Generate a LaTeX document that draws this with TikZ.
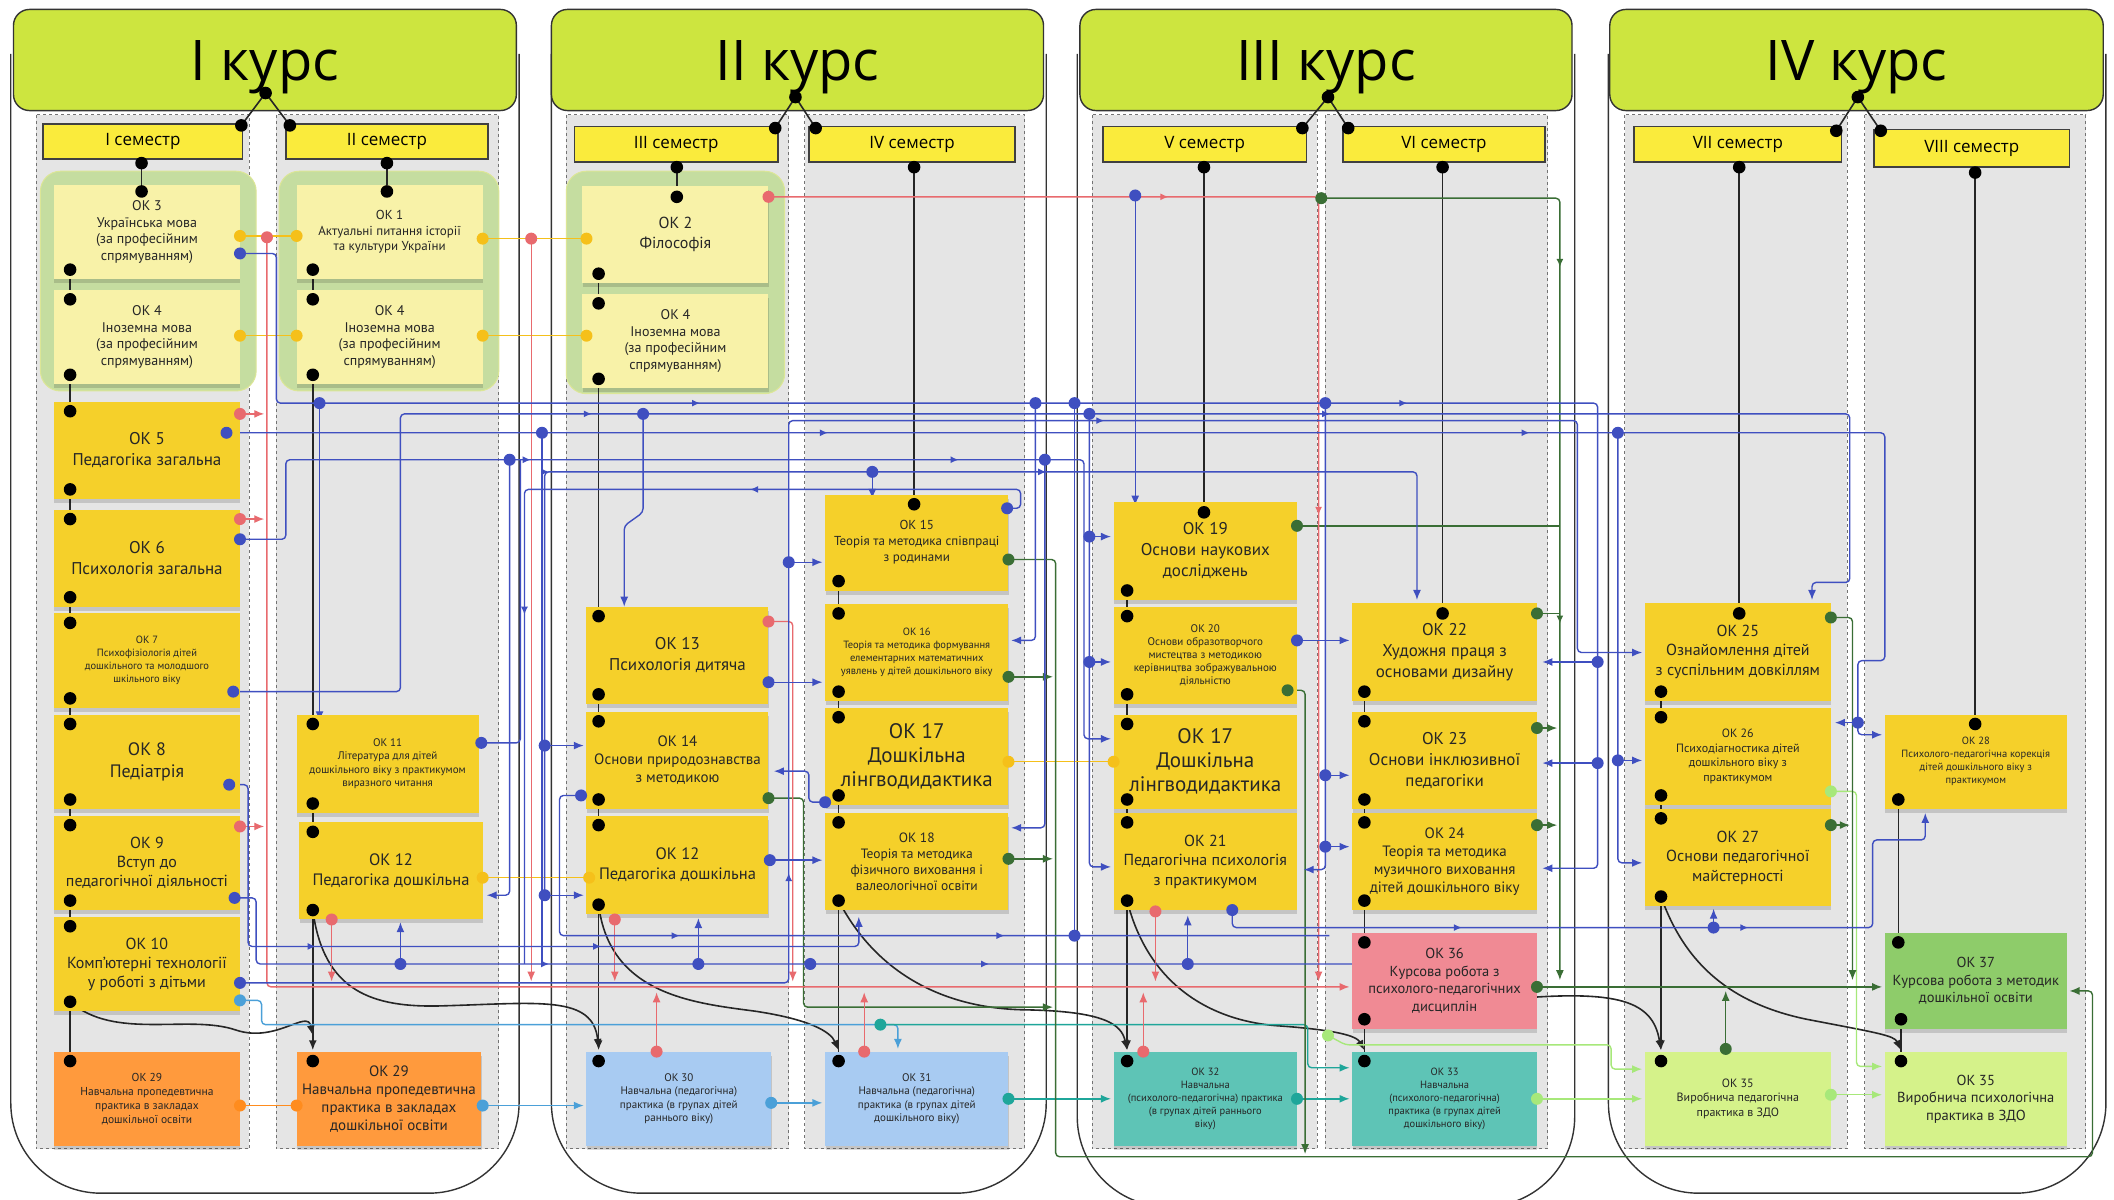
\documentclass[tikz,border=0pt]{standalone}
\usepackage{fontspec}
\setmainfont{Open Sans}
\newfontfamily\notefont{PT Sans}
\usetikzlibrary{arrows.meta,shadows,fit,decorations.markings}
\definecolor{hdr}{RGB}{205,229,63}
\definecolor{sem}{RGB}{250,235,60}
\definecolor{nyel}{RGB}{245,208,42}
\definecolor{nlight}{RGB}{248,242,168}
\definecolor{grp}{RGB}{197,221,160}
\definecolor{grpb}{RGB}{220,230,150}
\definecolor{colgray}{RGB}{229,229,229}
\definecolor{norange}{RGB}{255,154,61}
\definecolor{nblue}{RGB}{168,203,242}
\definecolor{nteal}{RGB}{94,196,182}
\definecolor{npink}{RGB}{240,138,148}
\definecolor{nlgreen}{RGB}{213,242,138}
\definecolor{ngreen}{RGB}{142,204,106}
\definecolor{cblue}{RGB}{63,79,192}
\definecolor{cred}{RGB}{232,106,110}
\definecolor{cyel}{RGB}{245,192,26}
\definecolor{cdgreen}{RGB}{58,110,53}
\definecolor{clgreen}{RGB}{167,232,122}
\definecolor{cteal}{RGB}{31,166,154}
\definecolor{clblue}{RGB}{75,160,216}
\definecolor{corange}{RGB}{255,140,30}
\newcommand\mknote[9]{%
  \node[notebox, fill=#6, fit={(#2,#3) (#4,#5)}] (#1) {};
  \node[notetext, font={\notefont\fontsize{#7}{#8}\selectfont}] (#1t) at (#1.center) {#9};
}
\begin{document}
\begin{tikzpicture}[x=1.348pt,y=-1.348pt,
  blk/.style={draw=black!85, line width=1.6pt},
  cb/.style={draw=cblue, line width=1.4pt, rounded corners=4pt},
  cr/.style={draw=cred, line width=1.4pt, rounded corners=4pt},
  cy/.style={draw=cyel, line width=1.4pt},
  co/.style={draw=corange, line width=1.4pt},
  cg/.style={draw=cdgreen, line width=1.4pt, rounded corners=4pt},
  clg/.style={draw=clgreen, line width=1.4pt, rounded corners=4pt},
  ct/.style={draw=cteal, line width=1.4pt, rounded corners=4pt},
  clb/.style={draw=clblue, line width=1.4pt, rounded corners=4pt},
  arr/.style={-{Latex[length=10pt,width=8pt]}},
  ma/.style={postaction={decorate}, decoration={markings,
     mark=at position 0.3 with {\arrow{Latex[length=8pt,width=7pt]}},
     mark=at position 0.65 with {\arrow{Latex[length=8pt,width=7pt]}}}},
  notebox/.style={inner sep=0pt, draw=none, drop shadow={shadow xshift=0.5pt, shadow yshift=-4pt, opacity=0.14, fill=black}},
  notetext/.style={align=center, text=black!85, inner sep=0pt},
  hdrbox/.style={inner sep=0pt, draw=black!80, line width=1.4pt, fill=hdr, rounded corners=16pt},
  sembox/.style={inner sep=0pt, draw=black!75, line width=1.5pt, fill=sem},
  colbox/.style={fill=colgray, draw=black!55, dashed, line width=0.8pt},
  course/.style={draw=black!80, line width=1.4pt, rounded corners=90pt},
  grpbox/.style={fill=grp, draw=grpb, line width=1pt, rounded corners=20pt},
  hdrtext/.style={font=\fontsize{56}{60}\selectfont, yshift=-7pt},
  semtext/.style={font=\fontsize{17}{20}\selectfont}
]
\fill[white] (0,0) rectangle (1568,890);
\useasboundingbox (0,0) rectangle (1568,890);

% course outlines
\draw[course] (8,40) -- (8,885) -- (385,885) -- (385,40);
\draw[course] (409,40) -- (409,885) -- (776,885) -- (776,40);
\draw[course] (799,40) -- (799,895) -- (1168,895) -- (1168,40);
\draw[course] (1193,40) -- (1193,885) -- (1562,885) -- (1562,40);

% semester columns
\foreach \a/\b in {27/185,205/370,420/585,597/760,810/977,983/1148,1205/1370,1383/1547}
  \filldraw[colbox] (\a,85) rectangle (\b,852);

% headers
\node[hdrbox, fit={(10,7) (383,82)}] (h1) {};
\node[hdrtext] (h1t) at (h1.center) {I курс};
\node[hdrbox, fit={(409,7) (774,82)}] (h2) {};
\node[hdrtext] (h2t) at (h2.center) {II курс};
\node[hdrbox, fit={(801,7) (1166,82)}] (h3) {};
\node[hdrtext] (h3t) at (h3.center) {III курс};
\node[hdrbox, fit={(1194,7) (1560,82)}] (h4) {};
\node[hdrtext] (h4t) at (h4.center) {IV курс};

% semester boxes
\node[sembox, fit={(32,92) (180,118)}] (s1) {};
\node[semtext] at (s1.center) {I семестр};
\node[sembox, fit={(212,92) (362,118)}] (s2) {};
\node[semtext] at (s2.center) {II семестр};
\node[sembox, fit={(426,94) (577,120)}] (s3) {};
\node[semtext] at (s3.center) {III семестр};
\node[sembox, fit={(600,94) (753,120)}] (s4) {};
\node[semtext] at (s4.center) {IV семестр};
\node[sembox, fit={(818,94) (969,120)}] (s5) {};
\node[semtext] at (s5.center) {V семестр};
\node[sembox, fit={(996,94) (1146,120)}] (s6) {};
\node[semtext] at (s6.center) {VI семестр};
\node[sembox, fit={(1212,94) (1366,120)}] (s7) {};
\node[semtext] at (s7.center) {VII семестр};
\node[sembox, fit={(1390,96) (1535,124)}] (s8) {};
\node[semtext] at (s8.center) {VIII семестр};

% green groups
\filldraw[grpbox] (30,127) rectangle (190,290);
\filldraw[grpbox] (207,127) rectangle (370,290);
\filldraw[grpbox] (420,127) rectangle (582,292);

% ---------- black structure lines ----------
\foreach \a/\b/\c/\d in {197/69/179/93,197/69/215/93,590/72/575/95,590/72/605/95,985/72/966/95,985/72/1000/95,1378/72/1362/97,1378/72/1395/97}
  \draw[blk] (\a,\b) -- (\c,\d);
\def\chains{52/200/222,52/278/305,52/363/385,52/443/462,52/518/537,52/593/612,52/668/687,52/743/787,
232/200/222,232/278/537,232/596/617,444/203/225,444/281/457,444/515/535,444/593/612,
622/431/455,622/513/532,622/590/610,622/668/787,836/438/457,836/515/537,836/593/610,
1012/513/535,1012/593/610,1012/668/699,1012/756/787,1232/513/532,1232/590/607,1408/593/699,1410/756/787,
105/121/142,287/121/142,502/124/146,678/124/374,893/124/380,1070/124/455,1290/124/455,1465/128/537}
\foreach \x/\a/\b in \chains \draw[blk] (\x,\a) -- (\x,\b);
\foreach \x/\a in {232/675,444/671,836/668,1232/665} \draw[blk,arr] (\x,\a) -- (\x,779);
\draw[blk,arr] (52,743) .. controls (85,772) and (140,752) .. (175,764) .. controls (205,774) and (228,748) .. (232,768);
\draw[blk,arr] (232,675) .. controls (240,735) and (275,748) .. (330,746) .. controls (400,744) and (440,738) .. (444,778);
\draw[blk,arr] (444,671) .. controls (452,738) and (515,744) .. (560,750) .. controls (600,756) and (616,765) .. (622,779);
\draw[blk,arr] (622,668) .. controls (650,722) and (700,748) .. (760,749) .. controls (820,750) and (832,760) .. (836,779);
\draw[blk,arr] (836,668) .. controls (852,732) and (900,758) .. (950,761) .. controls (990,764) and (1006,768) .. (1012,779);
\draw[blk,arr] (1012,756) .. controls (1045,772) and (1075,745) .. (1120,741) .. controls (1200,734) and (1226,742) .. (1232,779);
\draw[blk,arr] (1232,665) .. controls (1252,722) and (1292,746) .. (1340,756) .. controls (1392,766) and (1405,768) .. (1410,779);

% ---------- coloured connectors ----------
% yellow / orange
\draw[cy] (178,175) -- (220,175);
\draw[cy] (358,177) -- (435,177);
\draw[cy] (178,249) -- (220,249);
\draw[cy] (358,249) -- (435,249);
\draw[cy] (358,651) -- (437,651);
\draw[cy] (748,565) -- (826,565);
\draw[co] (178,820) -- (220,820);
% light blue / teal
\draw[clb,arr] (358,820) -- (433,820);
\draw[clb,arr] (572,818) -- (610,818);
\draw[clb] (178,742) -- (194,742) -- (194,760) -- (653,760);
\draw[clb,arr] (653,760) -- (666,760) -- (666,778);
\draw[ct,arr] (653,760) -- (970,760) -- (970,792) -- (1001,792);
\draw[ct,arr] (748,815) -- (824,815);
\draw[ct,arr] (962,815) -- (1001,815);
% light green
\draw[clg,arr] (1140,815) -- (1218,815);
\draw[clg,arr] (1358,812) -- (1396,812);
\draw[clg,arr] (985,768) -- (998,775) -- (1195,775) -- (1195,793) -- (1218,793);
\draw[clg,arr] (1358,587) -- (1377,587) -- (1377,791) -- (1396,791);
% dark green
\draw[cg,arr] (1140,732) -- (1396,732);
\draw[cg,arr] (1280,778) -- (1280,735);
\draw[cg,arr] (570,592) -- (596,592) -- (596,747) -- (781,747);
\draw[cg,arr] (748,415) -- (783,415) -- (783,858) -- (1552,858) -- (1552,735) -- (1535,735);
\draw[cg,arr] (748,502) -- (781,502);
\draw[cg,arr] (748,637) -- (781,637);
\draw[cg,arr,ma] (980,147) -- (1157,147) -- (1157,727);
\draw[cg] (962,390) -- (1157,390);
\draw[cg,arr] (955,512) -- (968,512) -- (968,856);
\draw[cg] (1140,455) -- (1157,455);
\draw[cg,arr] (1140,540) -- (1155,540);
\draw[cg,arr] (1140,612) -- (1155,612);
\draw[cg,arr] (1358,458) -- (1374,458) -- (1374,727);
\draw[cg,arr] (1358,612) -- (1372,612);
% red
\draw[cr,arr] (198,176) -- (198,732) -- (1001,732);
\draw[cr,arr] (394,177) -- (394,728);
\draw[cr,arr] (178,307) -- (196,307);
\draw[cr,arr] (178,385) -- (196,385);
\draw[cr,arr] (178,613) -- (196,613);
\draw[cr,arr] (246,682) -- (246,728);
\draw[cr,arr] (456,682) -- (456,728);
\draw[cr,arr] (487,780) -- (487,736);
\draw[cr,arr] (641,780) -- (641,736);
\draw[cr,arr] (857,676) -- (857,728);
\draw[cr,arr] (848,780) -- (848,736);
\draw[cr,arr] (570,461) -- (588,461) -- (588,728);
\draw[cr,arr,ma] (570,146) -- (978,146) -- (978,728);
% blue
\draw[cb,arr,ma] (178,188) -- (205,188) -- (205,299) -- (1185,299) -- (1185,644) -- (1144,644);
\draw[cb,arr] (1185,491) -- (1144,491);
\draw[cb,arr] (1185,566) -- (1144,566);
\draw[cb,arr] (237,299) -- (237,535);
\draw[cb,arr,ma] (168,321) -- (1398,321) -- (1398,490) -- (1378,490) -- (1378,545) -- (1396,545);
\draw[cb,arr] (1378,536) -- (1361,536);
\draw[cb] (402,321) -- (402,715);
\draw[cb,arr,ma] (178,400) -- (212,400) -- (212,341) -- (804,341) -- (804,548) -- (824,548);
\draw[cb,arr] (378,341) -- (378,664) -- (361,664);
\draw[cb] (357,551) -- (386,551) -- (386,341);
\draw[cb,arr,ma] (173,513) -- (297,513) -- (297,307) -- (1372,307) -- (1372,432) -- (1344,432) -- (1344,445);
\draw[cb,arr] (297,715) -- (297,684);
\draw[cb,arr] (477,307) -- (477,380) -- (463,390) -- (463,450);
\draw[cb,arr,ma] (404,664) -- (404,350) -- (1051,350) -- (1051,445);
\draw[cb,arr] (404,664) -- (433,664);
\draw[cb,arr] (404,553) -- (433,553);
\draw[cb,arr] (647,350) -- (647,370);
\draw[cb,ma] (747,377) -- (757,377) -- (757,363) -- (389,363) -- (389,715);
\draw[cb,arr] (842,145) -- (842,375);
\draw[cb,arr,ma] (178,729) -- (585,729) -- (585,312) -- (1170,312) -- (1170,484) -- (1218,484);
\draw[cb,arr] (585,417) -- (610,417);
\draw[cb,arr] (570,506) -- (610,506);
\draw[cb,arr] (571,638) -- (610,638);
\draw[cb,arr] (612,595) -- (600,595) -- (600,572) -- (574,572);
\draw[cb,arr] (768,299) -- (768,475) -- (750,475);
\draw[cb,arr] (775,341) -- (775,614) -- (750,614);
\draw[cb,arr] (808,307) -- (808,643) -- (824,643);
\draw[cb,arr] (808,398) -- (824,398);
\draw[cb,arr] (808,491) -- (824,491);
\draw[cb,arr] (962,475) -- (1001,475);
\draw[cb,arr] (983,299) -- (983,645) -- (967,645);
\draw[cb,arr] (983,575) -- (1001,575);
\draw[cb,arr] (983,628) -- (1001,628);
\draw[cb,arr] (1200,321) -- (1200,640) -- (1218,640);
\draw[cb,arr] (1200,564) -- (1218,564);
\draw[cb,arr,ma] (914,675) -- (914,688) -- (1389,688) -- (1389,623) -- (1428,623) -- (1428,603);
\draw[cb,arr] (1271,688) -- (1271,674);
\draw[cb,arr,ma] (170,582) -- (184,582) -- (184,702) -- (637,702) -- (637,680);
\draw[cb,ma] (174,666) -- (190,666) -- (190,715) -- (1060,715);
\draw[cb,arr] (518,715) -- (518,681);
\draw[cb,arr] (881,715) -- (881,679);
\draw[cb,ma] (431,590) -- (415,590) -- (415,694) -- (986,694);
\draw[cb] (797,694) -- (797,299);

% ---------- notes ----------
\mknote{c3}{40}{137}{178}{207}{nlight}{14}{16.5}{ОК 3\\Українська мова\\(за професійним\\спрямуванням)}
\mknote{c4a}{40}{215}{178}{285}{nlight}{14}{16.5}{ОК 4\\Іноземна мова\\(за професійним\\спрямуванням)}
\mknote{c5}{40}{298}{178}{370}{nyel}{17}{21}{ОК 5\\Педагогіка загальна}
\mknote{c6}{40}{378}{178}{450}{nyel}{17}{21}{ОК 6\\Психологія загальна}
\mknote{c7}{40}{455}{178}{525}{nyel}{10.5}{13}{ОК 7\\Психофізіологія дітей\\дошкільного та молодшого\\шкільного віку}
\mknote{c8}{40}{530}{178}{600}{nyel}{18}{22}{ОК 8\\Педіатрія}
\mknote{c9}{40}{605}{178}{675}{nyel}{16}{19}{ОК 9\\Вступ до\\педагогічної діяльності}
\mknote{c10}{40}{680}{178}{750}{nyel}{16}{19}{ОК 10\\Комп’ютерні технології\\у роботі з дітьми}
\mknote{c29a}{40}{780}{178}{850}{norange}{11.5}{14}{ОК 29\\Навчальна пропедевтична\\практика в закладах\\дошкільної освіти}

\mknote{c1}{220}{137}{358}{207}{nlight}{13}{15.5}{ОК 1\\Актуальні питання історії\\та культури України}
\mknote{c4b}{220}{215}{358}{285}{nlight}{14}{16.5}{ОК 4\\Іноземна мова\\(за професійним\\спрямуванням)}
\mknote{c11}{220}{530}{355}{603}{nyel}{11}{13.5}{ОК 11\\Література для дітей\\дошкільного віку з практикумом\\виразного читання}
\mknote{c12a}{222}{610}{358}{682}{nyel}{16.5}{20}{ОК 12\\Педагогіка дошкільна}
\mknote{c29b}{220}{780}{357}{850}{norange}{15}{18}{ОК 29\\Навчальна пропедевтична\\практика в закладах\\дошкільної освіти}

\mknote{c2}{432}{138}{570}{210}{nlight}{16}{20}{ОК 2\\Філософія}
\mknote{c4c}{432}{218}{570}{288}{nlight}{14}{16.5}{ОК 4\\Іноземна мова\\(за професійним\\спрямуванням)}
\mknote{c13}{435}{450}{570}{522}{nyel}{17}{21}{ОК 13\\Психологія дитяча}
\mknote{c14}{435}{528}{570}{600}{nyel}{15}{18}{ОК 14\\Основи природознавства\\з методикою}
\mknote{c12b}{435}{605}{570}{678}{nyel}{16.5}{20}{ОК 12\\Педагогіка дошкільна}
\mknote{c30}{435}{780}{572}{850}{nblue}{11}{13.5}{ОК 30\\Навчальна (педагогічна)\\практика (в групах дітей\\раннього віку)}

\mknote{c15}{612}{367}{748}{438}{nyel}{13}{16}{ОК 15\\Теорія та методика співпраці\\з родинами}
\mknote{c16}{612}{448}{748}{520}{nyel}{10.5}{13}{ОК 16\\Теорія та методика формування\\елементарних математичних\\уявлень у дітей дошкільного віку}
\mknote{c17a}{612}{525}{748}{597}{nyel}{21}{24}{ОК 17\\Дошкільна\\лінгводидактика}
\mknote{c18}{612}{603}{748}{675}{nyel}{13.5}{16}{ОК 18\\Теорія та методика\\фізичного виховання і\\валеологічної освіти}
\mknote{c31}{612}{780}{748}{850}{nblue}{11}{13.5}{ОК 31\\Навчальна (педагогічна)\\практика (в групах дітей\\дошкільного віку)}

\mknote{c19}{826}{372}{962}{445}{nyel}{17}{21}{ОК 19\\Основи наукових\\досліджень}
\mknote{c20}{826}{450}{962}{522}{nyel}{11}{13}{ОК 20\\Основи образотворчого\\мистецтва з методикою\\керівництва зображувальною\\діяльністю}
\mknote{c17b}{826}{530}{962}{600}{nyel}{21}{24}{ОК 17\\Дошкільна\\лінгводидактика}
\mknote{c21}{826}{603}{962}{675}{nyel}{16}{19.5}{ОК 21\\Педагогічна психологія\\з практикумом}
\mknote{c32}{826}{780}{962}{850}{nteal}{10.5}{13}{ОК 32\\Навчальна\\(психолого-педагогічна) практика\\(в групах дітей раннього\\віку)}

\mknote{c22}{1003}{447}{1140}{520}{nyel}{17}{21}{ОК 22\\Художня праця з\\основами дизайну}
\mknote{c23}{1003}{528}{1140}{600}{nyel}{17}{21}{ОК 23\\Основи інклюзивної\\педагогіки}
\mknote{c24}{1003}{603}{1140}{675}{nyel}{15}{18}{ОК 24\\Теорія та методика\\музичного виховання\\дітей дошкільного віку}
\mknote{c36}{1003}{692}{1140}{763}{npink}{14.5}{17.5}{ОК 36\\Курсова робота з\\психолого-педагогічних\\дисциплін}
\mknote{c33}{1003}{780}{1140}{850}{nteal}{10.5}{13}{ОК 33\\Навчальна\\(психолого-педагогічна)\\практика (в групах дітей\\дошкільного віку)}

\mknote{c25}{1220}{447}{1358}{520}{nyel}{16}{19.5}{ОК 25\\Ознайомлення дітей\\з суспільним довкіллям}
\mknote{c26}{1220}{525}{1358}{597}{nyel}{12}{14.5}{ОК 26\\Психодіагностика дітей\\дошкільного віку з\\практикумом}
\mknote{c27}{1220}{600}{1358}{672}{nyel}{16}{19.5}{ОК 27\\Основи педагогічної\\майстерності}
\mknote{c35a}{1220}{780}{1358}{850}{nlgreen}{12}{14.5}{ОК 35\\Виробнича педагогічна\\практика в ЗДО}

\mknote{c28}{1398}{530}{1533}{600}{nyel}{10.5}{13}{ОК 28\\Психолого-педагогічна корекція\\дітей дошкільного віку з\\практикумом}
\mknote{c37}{1398}{692}{1533}{763}{ngreen}{14.5}{17.5}{ОК 37\\Курсова робота з методик\\дошкільної освіти}
\mknote{c35b}{1398}{780}{1533}{850}{nlgreen}{14.5}{17.5}{ОК 35\\Виробнича психологічна\\практика в ЗДО}

% ---------- dots ----------
\foreach \p in {{197,69},{179,93},{215,93},{590,72},{575,95},{605,95},{985,72},{966,95},{1000,95},{1378,72},{1362,97},{1395,97}}
  \fill[black] (\p) circle (6.3pt);
\foreach \x/\a/\b in \chains {\fill[black] (\x,\a) circle (6.3pt); \fill[black] (\x,\b) circle (6.3pt);}
\foreach \p in {{232,675},{444,671},{836,668},{1232,665},{232,787},{444,787},{836,787},{1232,787}}
  \fill[black] (\p) circle (6.3pt);
\foreach \p in {{178,175},{220,175},{358,177},{435,177},{178,249},{220,249},{358,249},{435,249},{358,651},{437,651},{748,565},{826,565}}
  \fill[cyel] (\p) circle (6pt);
\foreach \p in {{178,820},{220,820}} \fill[corange] (\p) circle (6pt);
\foreach \p in {{358,820},{572,818},{178,742}} \fill[clblue] (\p) circle (6pt);
\foreach \p in {{653,760},{748,815},{962,815}} \fill[cteal] (\p) circle (6pt);
\foreach \p in {{1140,815},{1358,812},{985,768},{1358,587}} \fill[clgreen] (\p) circle (6pt);
\foreach \p in {{1140,732},{1280,778},{570,592},{748,415},{748,502},{748,637},{980,147},{962,390},{955,512},{1140,455},{1140,540},{1140,612},{1358,458},{1358,612}}
  \fill[cdgreen] (\p) circle (6pt);
\foreach \p in {{198,176},{394,177},{178,307},{178,385},{178,613},{246,682},{456,682},{487,780},{641,780},{857,676},{848,780},{570,461},{570,146}}
  \fill[cred] (\p) circle (6pt);
\foreach \p in {{178,188},{237,299},{1185,491},{1185,566},{168,321},{402,321},{1378,536},{178,400},{378,341},{357,551},{173,513},{297,715},{477,307},{404,553},{404,664},{647,350},{842,145},{585,417},{570,506},{571,638},{612,595},{768,299},{775,341},{808,307},{808,398},{808,491},{962,475},{983,299},{983,575},{983,628},{1200,321},{1200,564},{914,675},{1271,688},{170,582},{174,666},{518,715},{881,715},{601,715},{431,590},{797,694},{797,299},{178,729},{747,377}}
  \fill[cblue] (\p) circle (6pt);
\end{tikzpicture}
\end{document}
